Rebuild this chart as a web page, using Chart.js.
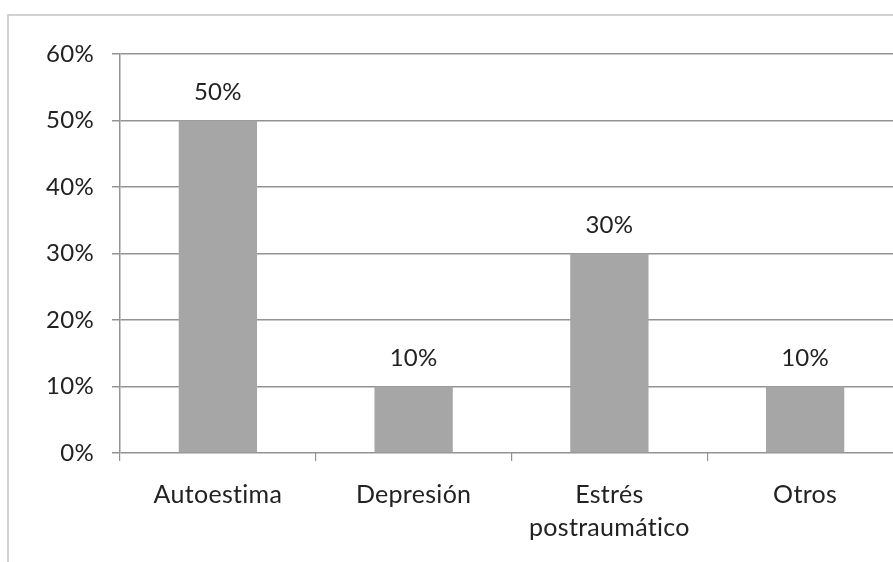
<!DOCTYPE html>
<html>
<head>
<meta charset="utf-8">
<script src="https://cdn.jsdelivr.net/npm/chart.js@4.4.0/dist/chart.umd.min.js"></script>
<style>
  html, body { margin: 0; padding: 0; background: #fff; overflow: hidden; }
  #wrap { position: relative; width: 893px; height: 562px; overflow: hidden; }
  #box { position: absolute; left: 0; top: 0; width: 920px; height: 562px; }
  canvas { font-variant-ligatures: none; }
</style>
</head>
<body>
<div id="wrap"><div id="box"><canvas id="c" width="920" height="562"></canvas></div></div>
<script>
const categories = ['Autoestima', 'Depresión', ['Estrés', 'postraumático'], 'Otros'];
const values = [0.50, 0.10, 0.30, 0.10];
const yTicks = [0, 0.1, 0.2, 0.3, 0.4, 0.5, 0.6];

const FONT = 'Lato';
const TEXT = '#222222';
const GRID = '#939393';

const pct = v => Math.round(v * 100) + '%';

const frame = {
  id: 'frame',
  beforeDraw(chart) {
    const ctx = chart.ctx;
    ctx.fillStyle = '#fff';
    ctx.fillRect(0, 0, chart.width, chart.height);
    ctx.strokeStyle = '#c4c4c4';
    ctx.lineWidth = 1.5;
    ctx.beginPath();
    ctx.moveTo(8, chart.height);
    ctx.lineTo(8, 15);
    ctx.lineTo(chart.width, 15);
    ctx.stroke();
    if ('letterSpacing' in ctx) ctx.letterSpacing = '0.3px';
  }
};

const labels = {
  id: 'labels',
  afterDatasetsDraw(chart) {
    const ctx = chart.ctx;
    const meta = chart.getDatasetMeta(0);
    ctx.save();
    ctx.font = '24px ' + FONT;
    ctx.fillStyle = TEXT;
    ctx.textAlign = 'center';
    ctx.textBaseline = 'middle';
    meta.data.forEach((bar, i) => {
      ctx.fillText(pct(values[i]), bar.x, bar.y - 28);
    });
    ctx.restore();
  }
};

new Chart(document.getElementById('c'), {
  type: 'bar',
  data: {
    labels: categories,
    datasets: [{
      data: values,
      backgroundColor: '#a6a6a6',
      borderWidth: 0,
      barPercentage: 0.4,
      categoryPercentage: 1.0
    }]
  },
  options: {
    responsive: false,
    animation: false,
    devicePixelRatio: 1,
    layout: { padding: { left: 0, right: 17, top: 54, bottom: 0 } },
    plugins: { legend: { display: false }, tooltip: { enabled: false } },
    scales: {
      x: {
        offset: true,
        grid: { display: true, drawOnChartArea: false, drawTicks: true, tickLength: 8, color: GRID, offset: true, lineWidth: 1.2 },
        border: { display: false },
        ticks: { color: TEXT, font: { family: FONT, size: 25, lineHeight: 1.3 }, padding: 18, maxRotation: 0, autoSkip: false },
        afterFit: s => { s.height = 109; }
      },
      y: {
        min: 0, max: 0.6,
        afterBuildTicks: s => { s.ticks = yTicks.map(v => ({ value: v })); },
        grid: { color: GRID, lineWidth: 1.5, tickLength: 8 },
        border: { display: true, color: GRID, width: 1.5 },
        ticks: { color: TEXT, font: { family: FONT, size: 24 }, padding: 18, callback: v => pct(v) },
        afterFit: s => { s.width = 120; }
      }
    }
  },
  plugins: [frame, labels]
});
</script>
</body>
</html>
